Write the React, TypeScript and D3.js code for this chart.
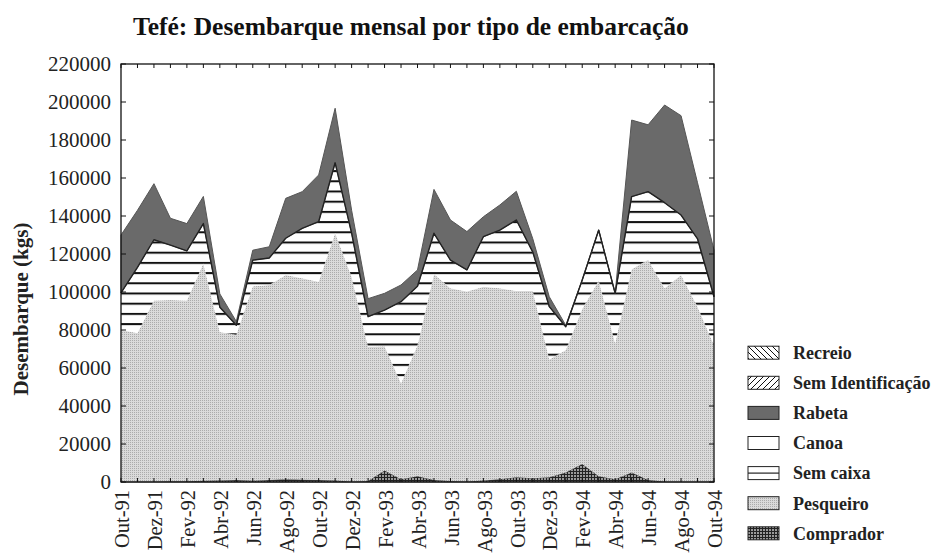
import React from "react";
import * as d3 from "d3";

const months = [
  "Out-91","Nov-91","Dez-91","Jan-92","Fev-92","Mar-92","Abr-92","Mai-92","Jun-92","Jul-92","Ago-92","Set-92",
  "Out-92","Nov-92","Dez-92","Jan-93","Fev-93","Mar-93","Abr-93","Mai-93","Jun-93","Jul-93","Ago-93","Set-93",
  "Out-93","Nov-93","Dez-93","Jan-94","Fev-94","Mar-94","Abr-94","Mai-94","Jun-94","Jul-94","Ago-94","Set-94","Out-94",
];

const comprador = [300,300,300,400,400,600,800,1000,700,1000,1500,1200,1000,800,300,500,6000,1500,3000,1000,500,300,800,1500,2500,2000,2500,5000,9500,3000,1500,5000,1000,300,300,300,300];
const pesqueiro = [79700,78100,95200,95400,95100,114400,78200,76500,102300,102700,107500,106000,104400,130200,107700,70500,65500,50500,69000,108500,101500,99900,102000,100500,98000,98500,62000,64500,81500,103000,71500,107000,116000,101700,108700,92000,71700];
const semCaixa = [19500,34600,32000,28900,26100,21000,13000,5000,13800,14200,19300,26300,31600,37000,23000,16000,19000,42900,31000,21400,14800,11400,26300,30600,37400,20500,27800,12200,15300,26600,26300,38200,35800,45000,31500,35700,25500];
const canoa = months.map(() => 0);
const rabeta = [30500,30000,29500,14100,14400,14300,7000,2000,5200,5900,21000,19300,24600,28700,12000,9500,8800,8800,8600,23100,21100,20200,10500,13200,15100,7000,5200,800,0,0,0,40300,35200,51400,52300,29500,24500];
const semIdentificacao = months.map(() => 0);
const recreio = months.map(() => 0);

const yTicks = [0,20000,40000,60000,80000,100000,120000,140000,160000,180000,200000,220000];
const xLabels = months.filter((_, i) => i % 2 === 0);

const seriesKeys = ["Comprador","Pesqueiro","Sem caixa","Canoa","Rabeta","Sem Identificação","Recreio"];
const seriesValues: Record<string, number[]> = {
  "Comprador": comprador,
  "Pesqueiro": pesqueiro,
  "Sem caixa": semCaixa,
  "Canoa": canoa,
  "Rabeta": rabeta,
  "Sem Identificação": semIdentificacao,
  "Recreio": recreio,
};
const legendOrder = ["Recreio","Sem Identificação","Rabeta","Canoa","Sem caixa","Pesqueiro","Comprador"];

const fills: Record<string, string> = {
  "Comprador": "url(#pComprador)",
  "Pesqueiro": "url(#pPesqueiro)",
  "Sem caixa": "url(#pSemCaixa)",
  "Canoa": "#ffffff",
  "Rabeta": "#6a6a6a",
  "Sem Identificação": "url(#pSemId)",
  "Recreio": "url(#pRecreio)",
};
const strokes: Record<string, string> = {
  "Comprador": "#444",
  "Pesqueiro": "none",
  "Sem caixa": "none",
  "Canoa": "none",
  "Rabeta": "#555",
  "Sem Identificação": "none",
  "Recreio": "none",
};

const FONT = "'Liberation Serif', 'Times New Roman', serif";

export default function App() {
  const W = 938, H = 555;
  const left = 121, right = 714, top = 64, bottom = 482;

  const x = d3.scalePoint<string>().domain(months).range([left, right]);
  const y = d3.scaleLinear().domain([0, 220000]).range([bottom, top]);

  const table = months.map((m, i) => {
    const row: any = { month: m };
    seriesKeys.forEach((k) => (row[k] = seriesValues[k][i]));
    return row;
  });
  const stacked = d3.stack<any>().keys(seriesKeys)(table);
  const area = d3
    .area<any>()
    .x((d) => x(d.data.month) as number)
    .y0((d) => y(d[0]))
    .y1((d) => y(d[1]));
  const topLine = d3
    .line<any>()
    .x((d) => x(d.data.month) as number)
    .y((d) => y(d[1]));
  const semCaixaLayer = stacked.find((s) => s.key === "Sem caixa");

  return (
    <svg
      width={W}
      height={H}
      style={{ position: "absolute", left: 0, top: 0, background: "#fff" }}
      fontFamily={FONT}
    >
      <defs>
        <pattern id="pPesqueiro" width={2} height={2} patternUnits="userSpaceOnUse">
          <rect width={2} height={2} fill="#dadada" />
          <rect width={1} height={1} fill="#ababab" />
        </pattern>
        <pattern id="pComprador" width={3} height={3} patternUnits="userSpaceOnUse">
          <rect width={3} height={3} fill="#9a9a9a" />
          <rect width={3} height={1} fill="#222" />
          <rect width={1} height={3} fill="#222" />
        </pattern>
        <pattern id="pSemCaixa" width={10} height={10.2} patternUnits="userSpaceOnUse" y={-3.3}>
          <rect width={10} height={10.2} fill="#fff" />
          <rect y={0} width={10} height={2} fill="#111" />
        </pattern>
        <pattern id="pSemId" width={6} height={6} patternUnits="userSpaceOnUse">
          <rect width={6} height={6} fill="#fff" />
          <path d="M0,6 L6,0 M-1,1 L1,-1 M5,7 L7,5" stroke="#111" strokeWidth={1} />
        </pattern>
        <pattern id="pRecreio" width={6} height={6} patternUnits="userSpaceOnUse">
          <rect width={6} height={6} fill="#fff" />
          <path d="M0,0 L6,6 M-1,5 L1,7 M5,-1 L7,1" stroke="#111" strokeWidth={1} />
        </pattern>
      </defs>

      <text x={133} y={35} fontSize={25.5} fontWeight="bold" fill="#111">
        Tefé: Desembarque mensal por tipo de embarcação
      </text>

      <g>
        {stacked.map((s) => (
          <path
            key={s.key}
            d={area(s as any) || ""}
            fill={fills[s.key]}
            stroke={strokes[s.key]}
            strokeWidth={1}
            strokeLinejoin="round"
          />
        ))}
        {semCaixaLayer && (
          <path d={topLine(semCaixaLayer as any) || ""} fill="none" stroke="#222" strokeWidth={1.4} strokeLinejoin="round" />
        )}
      </g>

      <rect x={left} y={top} width={right - left} height={bottom - top} fill="none" stroke="#111" strokeWidth={1.3} />

      {yTicks.map((t) => (
        <g key={t}>
          <line x1={left} x2={left + 5} y1={y(t)} y2={y(t)} stroke="#111" strokeWidth={1} />
          <line x1={right} x2={right - 5} y1={y(t)} y2={y(t)} stroke="#111" strokeWidth={1} />
          <text x={111} y={y(t)} dy="0.35em" textAnchor="end" fontSize={21} fill="#222">
            {t}
          </text>
        </g>
      ))}

      {months.map((m) => (
        <g key={m}>
          <line x1={x(m)} x2={x(m)} y1={top} y2={top + 4} stroke="#111" strokeWidth={1} />
          <line x1={x(m)} x2={x(m)} y1={bottom} y2={bottom - 4} stroke="#111" strokeWidth={1} />
        </g>
      ))}

      {xLabels.map((m) => (
        <text
          key={m}
          transform={`translate(${(x(m) as number) + 1},490) rotate(-90)`}
          dy="0.35em"
          textAnchor="end"
          fontSize={20.5}
          fill="#222"
        >
          {m}
        </text>
      ))}

      <text
        transform="translate(21,309) rotate(-90)"
        dy="0.35em"
        textAnchor="middle"
        fontSize={21}
        fontWeight="bold"
        fill="#222"
      >
        Desembarque (kgs)
      </text>

      {legendOrder.map((k, i) => {
        const cy = 352.7 + i * 30.1;
        return (
          <g key={k}>
            <rect
              x={748}
              y={cy - 6.5}
              width={31}
              height={13}
              fill={k === "Sem caixa" ? "#fff" : fills[k]}
              stroke="#222"
              strokeWidth={1}
            />
            {k === "Sem caixa" && (
              <line x1={748} x2={779} y1={cy} y2={cy} stroke="#222" strokeWidth={1.2} />
            )}
            <text x={793} y={cy} dy="0.35em" fontSize={18} fontWeight="bold" fill="#222">
              {k}
            </text>
          </g>
        );
      })}
    </svg>
  );
}
